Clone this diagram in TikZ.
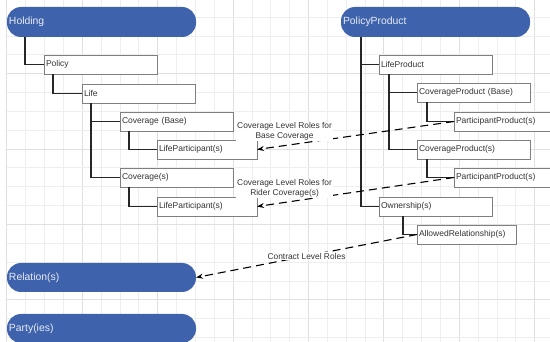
\documentclass[tikz,border=0pt]{standalone}
\usepackage{fontspec}
\setmainfont{Liberation Sans}
\usepackage{tikz}
\usetikzlibrary{positioning, arrows.meta}
\definecolor{pillblue}{HTML}{3E63AC}
\definecolor{boxgray}{HTML}{7F7F7F}
\definecolor{textgray}{HTML}{333333}
\tikzset{
pill/.style={fill=pillblue, rounded corners=14pt, minimum height=30pt, text width=185pt, inner xsep=2pt, inner ysep=0pt, outer sep=0pt, align=left, text=white!88!pillblue, font=\fontsize{10.4}{12}\selectfont}, % the blue rounded bars
entity/.style={draw=boxgray, line width=0.8pt, fill=white, minimum height=19pt, text width=109pt, inner xsep=2pt, inner ysep=0pt, outer sep=0pt, align=left, text=textgray, font=\fontsize{8.5}{10}\selectfont}, % the plain boxes
branch/.style={line width=1.1pt, black!85}, % tree lines
role/.style={-{Stealth[length=7pt,width=5pt]}, line width=1.1pt, dash pattern=on 8pt off 5pt}, % dashed role arrows
rolelabel/.style={fill=white, inner sep=1pt, align=center, text=textgray, font=\fontsize{8.4}{9.6}\selectfont}, % text on the role arrows
}

\begin{document}
\begin{tikzpicture}[x=1pt, y=-1pt]
\useasboundingbox (0,0) rectangle (550,342);
\clip (0,0) rectangle (550,342);
% background grid
\foreach \gx in {0,...,29}{
  \pgfmathtruncatemacro{\gmaj}{mod(\gx,4)==0}
  \ifnum\gmaj=1 \draw[gray!24, line width=0.6pt] (6.7+\gx*18.85,0) -- (6.7+\gx*18.85,342);
  \else \draw[gray!13, line width=0.5pt] (6.7+\gx*18.85,0) -- (6.7+\gx*18.85,342); \fi
}
\foreach \gy in {0,...,18}{
  \pgfmathtruncatemacro{\gmaj}{mod(\gy,4)==0}
  \ifnum\gmaj=1 \draw[gray!24, line width=0.6pt] (6.7,-1.9+\gy*18.85) -- (550,-1.9+\gy*18.85);
  \else \draw[gray!13, line width=0.5pt] (6.7,-1.9+\gy*18.85) -- (550,-1.9+\gy*18.85); \fi
}

% holding side
\node[pill, anchor=north west] (holding) at (7,7) {Holding};
\node[entity, below=18pt of holding.south west, anchor=north west, xshift=37pt] (policy) {Policy};
\node[entity, below=10pt of policy.south west, anchor=north west, xshift=38pt] (life) {Life};
\node[entity, below=9pt of life.south west, anchor=north west, xshift=38pt] (covbase) {Coverage (Base)};
\node[entity, text width=96pt, below=9pt of covbase.south west, anchor=north west, xshift=37pt] (lifepartbase) {LifeParticipant(s)};
\node[entity, below=37pt of covbase.south west, anchor=north west] (covrider) {Coverage(s)};
\node[entity, text width=96pt, below=10pt of covrider.south west, anchor=north west, xshift=37pt] (lifepartrider) {LifeParticipant(s)};
\node[pill, minimum height=29pt, anchor=north west] (relation) at (7,263) {Relation(s)};
\node[pill, minimum height=29pt, anchor=north west] (party) at (7,314) {Party(ies)};

% product side
\node[pill, anchor=north west] (policyproduct) at (341,7) {PolicyProduct};
\node[entity, below=18pt of policyproduct.south west, anchor=north west, xshift=38pt] (lifeproduct) {LifeProduct};
\node[entity, below=9pt of lifeproduct.south west, anchor=north west, xshift=38pt] (covprodbase) {CoverageProduct (Base)};
\node[entity, below=10pt of covprodbase.south west, anchor=north west, xshift=37pt] (partprodbase) {ParticipantProduct(s)};
\node[entity, below=38pt of covprodbase.south west, anchor=north west] (covprodrider) {CoverageProduct(s)};
\node[entity, below=9pt of covprodrider.south west, anchor=north west, xshift=37pt] (partprodrider) {ParticipantProduct(s)};
\node[entity, below=123pt of lifeproduct.south west, anchor=north west] (ownership) {Ownership(s)};
\node[entity, text width=95pt, below=9pt of ownership.south west, anchor=north west, xshift=38pt] (allowedrel) {AllowedRelationship(s)};

% tree lines
\draw[branch] ([xshift=18pt]holding.south west) |- (policy.west);
\draw[branch] ([xshift=9pt]policy.south west) |- (life.west);
\draw[branch] ([xshift=9pt]life.south west) |- (covbase.west);
\draw[branch] ([xshift=9pt]life.south west) |- (covrider.west);
\draw[branch] ([xshift=9pt]covbase.south west) |- (lifepartbase.west);
\draw[branch] ([xshift=9pt]covrider.south west) |- (lifepartrider.west);
\draw[branch] ([xshift=20pt]policyproduct.south west) |- (lifeproduct.west);
\draw[branch] ([xshift=20pt]policyproduct.south west) |- (ownership.west);
\draw[branch] ([xshift=10pt]lifeproduct.south west) |- (covprodbase.west);
\draw[branch] ([xshift=10pt]lifeproduct.south west) |- (covprodrider.west);
\draw[branch] ([xshift=10pt]covprodbase.south west) |- (partprodbase.west);
\draw[branch] ([xshift=10pt]covprodrider.south west) |- (partprodrider.west);
\draw[branch] ([xshift=24pt]ownership.south west) |- (allowedrel.west);

% role arrows
\draw[role] (partprodbase.west) -- node[pos=0.86, yshift=14pt, rolelabel] {Coverage Level Roles for\\Base Coverage} (lifepartbase.east);
\draw[role] (partprodrider.west) -- node[pos=0.86, yshift=14pt, rolelabel] {Coverage Level Roles for\\Rider Coverage(s)} (lifepartrider.east);
\draw[role] (allowedrel.west) -- node[pos=0.5, rolelabel] {Contract Level Roles} (relation.east);

\end{tikzpicture}
\end{document}
